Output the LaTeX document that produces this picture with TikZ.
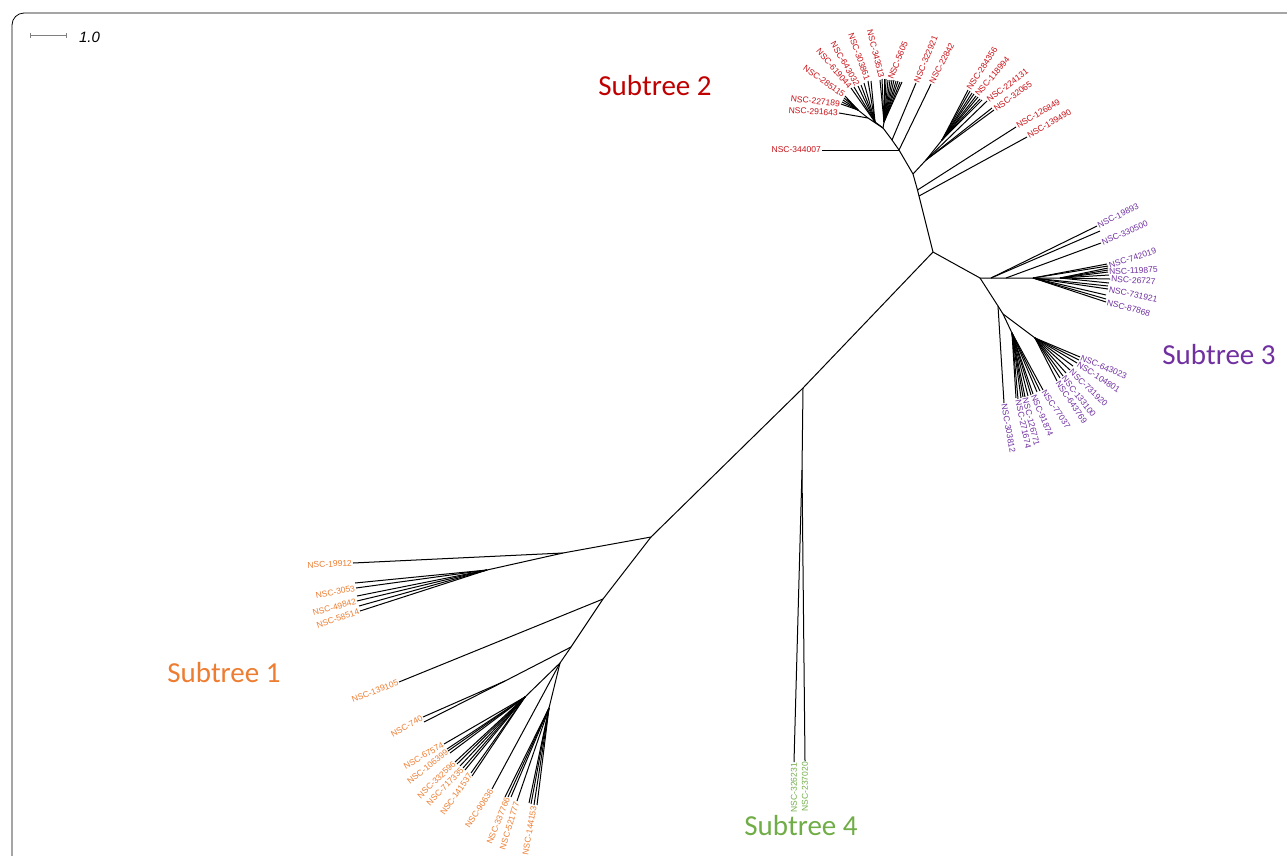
\documentclass[tikz,border=0pt]{standalone}
\usepackage{fontspec}
\setmainfont{Liberation Sans}
\newfontfamily\subfont{Carlito}
\definecolor{stO}{RGB}{237,125,49}
\definecolor{stR}{RGB}{200,16,22}
\definecolor{stRd}{RGB}{192,0,0}
\definecolor{stP}{RGB}{112,48,160}
\definecolor{stG}{RGB}{112,173,71}
\begin{document}
\begin{tikzpicture}[x=1pt,y=-1pt,
  br/.style={line width=1pt, black},
  leaf/.style={font=\fontsize{8.5}{10}\selectfont, inner sep=1pt},
  lo/.style={leaf, text=stO, anchor=east},
  lre/.style={leaf, text=stR, anchor=east},
  lrw/.style={leaf, text=stR, anchor=west},
  lpw/.style={leaf, text=stP, anchor=west},
  lg/.style={leaf, text=stG, anchor=east},
  subt/.style={font=\subfont\fontsize{29}{32}\selectfont, inner sep=0pt}]
\useasboundingbox (0,0) rectangle (1287,855);
\clip (0,0) rectangle (1287,855);

% frame
\draw[line width=0.8pt, rounded corners=12pt] (12,13) rectangle (1340,900);

% scale bar
\coordinate (sb1) at (30,35);
\coordinate (sb2) at (66,35);
\draw[gray, line width=0.6pt] (sb1) -- (sb2);
\draw[gray, line width=0.6pt] ([yshift=-2.5pt]sb1) -- ([yshift=2.5pt]sb1);
\draw[gray, line width=0.6pt] ([yshift=-2.5pt]sb2) -- ([yshift=2.5pt]sb2);
\node[font=\itshape\fontsize{15}{17}\selectfont, inner sep=0pt] (sbl) at (89.5,37) {1.0};

% ---------- backbone ----------
\coordinate (A) at (651,537);
\coordinate (Q) at (803,388);
\coordinate (R) at (933,252);
\draw[br] (A) -- (Q) -- (R);

% ---------- subtree 1 ----------
\coordinate (B) at (563,553);
\coordinate (C) at (487,570);
\coordinate (D) at (603,599);
\coordinate (E) at (571,647);
\coordinate (E2) at (505,681);
\coordinate (F) at (560,663);
\coordinate (G) at (525,697);
\coordinate (H1) at (549,708);
\draw[br] (A) -- (B) -- (C);
\draw[br] (A) -- (D) -- (E) -- (F) -- (G);
\draw[br] (E) -- (E2);
\draw[br] (F) -- (H1);

\foreach \p/\n/\x/\y in {C/c1/355/583, C/c2/357/596, C/c3/359/606,
  E2/e1/424/722,
  G/g1/447/749, G/g2/450/753, G/g3/457/764, G/g4/465/770, G/g5/472/776, G/g6/460/766,
  H1/h1/505/797, H1/h2/511/797, H1/h3/529/803, H1/h4/531/804, H1/h5/537/805}{
  \coordinate (\n) at (\x,\y);
  \draw[br] (\p) -- (\n);
}
\foreach \p/\n/\x/\y/\a/\lab in {B/o1/353/563/3/NSC-19912,
  C/o2/356/588/11/NSC-3053, C/o3/357/601/15/NSC-49842, C/o4/360/611/19/NSC-58514,
  D/o5/399/682/21/NSC-139105, E2/o6/423/717/30/NSC-740,
  G/o7/444/744/30/NSC-67574, G/o8/448/751/38/NSC-106399, G/o9/455/762/44/NSC-332596,
  G/o10/463/768/46/NSC-717335, G/o11/471/773/55/NSC-141537,
  F/o12/492/789/57/NSC-90636, H1/o13/508/797/68/NSC-337766,
  H1/o14/517/801/73/NSC-521777, H1/o15/534/805/80/NSC-144153}{
  \coordinate (\n) at (\x,\y);
  \draw[br] (\p) -- (\n);
  \node[lo, rotate=\a] (t\n) at (\n) {\lab};
}

% ---------- subtree 4 ----------
\coordinate (Q2) at (802,470);
\draw[br] (Q) -- (Q2);
\foreach \n/\x/\y/\lab in {k1/794/762/NSC-326231, k2/805/761/NSC-237020}{
  \coordinate (\n) at (\x,\y);
  \draw[br] (Q2) -- (\n);
  \node[lg, rotate=90] (t\n) at (\n) {\lab};
}

% ---------- subtree 2 ----------
\coordinate (U2) at (919,196);
\coordinate (U1) at (917.5,190);
\coordinate (S1) at (913,174);
\coordinate (S2) at (899,150);
\coordinate (S3) at (892,140);
\coordinate (S4) at (883,128);
\coordinate (T1) at (926,160);
\coordinate (T2) at (942,140);
\coordinate (P1) at (868,118);
\coordinate (P2) at (858,110);
\coordinate (P3) at (875,122);
\coordinate (P4) at (884,122);
\draw[br] (R) -- (U2) -- (U1) -- (S1) -- (S2) -- (S3) -- (S4);
\draw[br] (S1) -- (T1) -- (T2);
\draw[br] (S4) -- (P1) -- (P2);
\draw[br] (S4) -- (P3);
\draw[br] (S4) -- (P4);

\foreach \p/\n/\x/\y in {T1/r1/992/108,
  T2/r2/970/91, T2/r3/972/93, T2/r4/974/94, T2/r5/978/97, T2/r6/980/99, T2/r7/982/100,
  P4/r8/880/80, P4/r9/884/79, P4/r10/886/79, P4/r11/888/80, P4/r12/892/80,
  P4/r13/894/80, P4/r14/896/81, P4/r15/898/81, P4/r16/900/82, P4/r17/902/82,
  P3/r18/854/87, P3/r19/861/85, P3/r20/864/83, P3/r21/871/81,
  P2/r22/842/102, P2/r23/843/100, P2/r24/844/98, P2/r25/847/99, P2/r26/849/101}{
  \coordinate (\n) at (\x,\y);
  \draw[br] (\p) -- (\n);
}
\foreach \p/\n/\x/\y/\a/\lab in {S2/q1/822/150/0/NSC-344007,
  P1/q2/839/113/-3/NSC-291643, P2/q3/841/104/-6/NSC-227189,
  P2/q4/845/96/-35/NSC-285115, P3/q5/851/88/-49/NSC-619044,
  P3/q6/858/86/-60/NSC-643032, P3/q7/868/81/-70/NSC-303861,
  P4/q8/882/79/-76/NSC-343513}{
  \coordinate (\n) at (\x,\y);
  \draw[br] (\p) -- (\n);
  \node[lre, rotate=\a] (t\n) at (\n) {\lab};
}
\foreach \p/\n/\x/\y/\a/\lab in {P4/q9/890/80/68/NSC-5605,
  S3/q10/916/83/67.5/NSC-322921, S2/q11/931/84/62.5/NSC-22842,
  T2/q12/968/90/57/NSC-284356, T2/q13/976/96/50/NSC-118994,
  T1/q14/987/101/37/NSC-224131, T1/q15/994/110/36/NSC-32065,
  U1/q16/1016/127/30.7/NSC-126849, U2/q17/1027/137/30.6/NSC-139490}{
  \coordinate (\n) at (\x,\y);
  \draw[br] (\p) -- (\n);
  \node[lrw, rotate=\a] (t\n) at (\n) {\lab};
}

% ---------- subtree 3 ----------
\coordinate (V) at (980,278);
\coordinate (W1) at (991,278);
\coordinate (W2) at (1006,278);
\coordinate (W3) at (1033,278);
\coordinate (W4) at (1060,278);
\coordinate (X1) at (998,306);
\coordinate (X2) at (1003,314);
\coordinate (X3) at (1012,333);
\coordinate (X4) at (1035,338);
\draw[br] (R) -- (V) -- (W1) -- (W2) -- (W3) -- (W4);
\draw[br] (V) -- (X1) -- (X2) -- (X3);
\draw[br] (X2) -- (X4);

\foreach \p/\n/\x/\y in {W1/p1/1100/231,
  W3/p2/1107/264, W3/p3/1106/295, W3/p4/1106/299, W3/p5/1108/286,
  W4/p6/1108/268, W4/p7/1108/270, W4/p8/1109/275, W4/p9/1109/283,
  X3/p10/1016/398, X3/p11/1021/398, X3/p12/1023/397, X3/p13/1028/396,
  X3/p14/1031/395, X3/p15/1037/392, X3/p16/1040/391,
  X4/p17/1060/378, X4/p18/1066/373, X4/p19/1073/366, X4/p20/1079/360}{
  \coordinate (\n) at (\x,\y);
  \draw[br] (\p) -- (\n);
}
\foreach \p/\n/\x/\y/\a/\lab in {W1/m1/1097/226/26/NSC-19893,
  W2/m2/1101/243/23/NSC-330500, W3/m3/1108/266/18/NSC-742019,
  W4/m4/1108/272/3/NSC-119875, W4/m5/1110/279/-3/NSC-26727,
  W3/m6/1108/289/-12/NSC-731921, W3/m7/1106/302/-15/NSC-87868,
  X4/m8/1080/357/-23/NSC-643023, X4/m9/1077/363/-33/NSC-104801,
  X4/m10/1070/370/-44/NSC-731920, X4/m11/1063/376/-52/NSC-133100,
  X4/m12/1057/381/-56/NSC-643769, X3/m13/1043/390/-56/NSC-77037,
  X3/m14/1033/394/-67/NSC-91874, X3/m15/1025/397/-76/NSC-126771,
  X3/m16/1018/399/-78/NSC-271674, X1/m17/1004/403/-80/NSC-303812}{
  \coordinate (\n) at (\x,\y);
  \draw[br] (\p) -- (\n);
  \node[lpw, rotate=\a] (t\n) at (\n) {\lab};
}

% ---------- subtree captions ----------
\node[subt, text=stO] (cap1) at (224,673) {Subtree 1};
\node[subt, text=stRd] (cap2) at (655,86) {Subtree 2};
\node[subt, text=stP] (cap3) at (1219,355) {Subtree 3};
\node[subt, text=stG] (cap4) at (801,826) {Subtree 4};
\end{tikzpicture}
\end{document}
